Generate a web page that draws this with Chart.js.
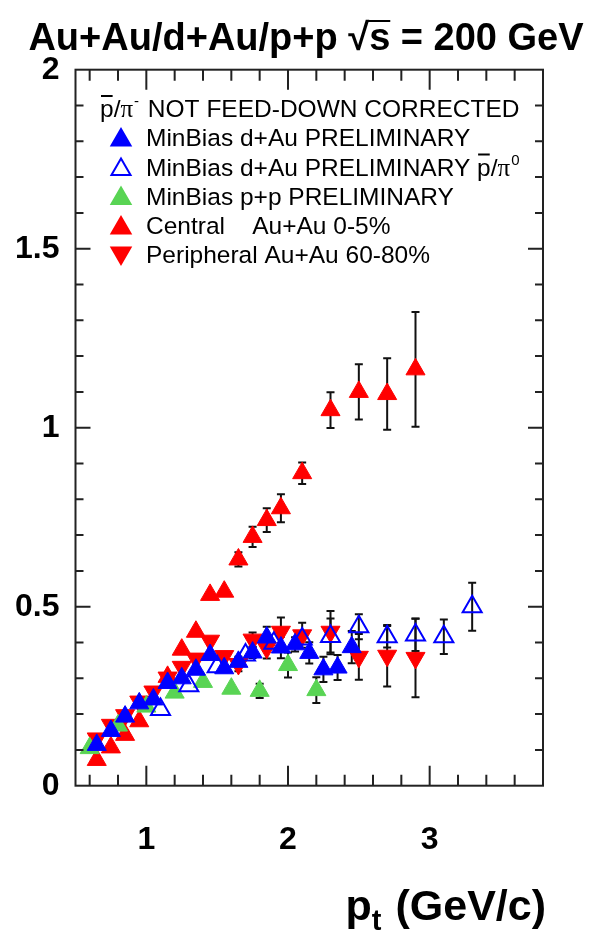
<!DOCTYPE html>
<html>
<head>
<meta charset="utf-8">
<script src="https://cdn.jsdelivr.net/npm/chart.js@4/dist/chart.umd.min.js"></script>
<style>
html, body { margin: 0; padding: 0; background: #fff; }
#wrap { width: 591px; height: 938px; }
</style>
</head>
<body>
<div id="wrap"><canvas id="ratio" width="591" height="938"></canvas></div>
<script>
// axis ticks
const xTicks = [1, 2, 3];
const yTicks = [0, 0.5, 1, 1.5, 2];

// MinBias d+Au pbar/pi-
const dAuPt = [0.65, 0.75, 0.85, 0.95, 1.05, 1.15, 1.25, 1.35, 1.45, 1.55, 1.65, 1.75, 1.85, 1.95, 2.05, 2.15, 2.25, 2.35, 2.45];
const dAuRatio = [0.114, 0.153, 0.193, 0.23, 0.241, 0.287, 0.30, 0.324, 0.365, 0.328, 0.346, 0.372, 0.414, 0.386, 0.395, 0.371, 0.325, 0.33, 0.387];
const dAuErr = [0, 0, 0, 0, 0, 0, 0, 0, 0, 0, 0, 0.015, 0.03, 0.03, 0.02, 0.03, 0.035, 0.035, 0.045];

// MinBias d+Au pbar/pi0
const dAuPi0Pt = [1.1, 1.3, 1.5, 1.7, 1.9, 2.1, 2.3, 2.5, 2.7, 2.9, 3.1, 3.3];
const dAuPi0Ratio = [0.213, 0.279, 0.332, 0.365, 0.398, 0.41, 0.417, 0.444, 0.416, 0.421, 0.416, 0.50];
const dAuPi0Err = [0, 0, 0, 0, 0, 0, 0.05, 0.035, 0.03, 0.045, 0.048, 0.067];

// MinBias p+p
const ppPt = [0.6, 0.8, 1.0, 1.2, 1.4, 1.6, 1.8, 2.0, 2.2];
const ppRatio = [0.105, 0.168, 0.221, 0.26, 0.29, 0.271, 0.265, 0.337, 0.267];
const ppErr = [0, 0, 0, 0, 0, 0, 0.02, 0.035, 0.036];

// Central Au+Au 0-5%
const centralPt = [0.65, 0.75, 0.85, 0.95, 1.15, 1.25, 1.35, 1.45, 1.55, 1.65, 1.75, 1.85, 1.95, 2.1, 2.3, 2.5, 2.7, 2.9];
const centralRatio = [0.072, 0.107, 0.142, 0.18, 0.304, 0.38, 0.43, 0.533, 0.542, 0.632, 0.695, 0.742, 0.775, 0.873, 1.049, 1.10, 1.094, 1.163];
const centralErr = [0, 0, 0, 0, 0, 0, 0, 0, 0, 0.02, 0.028, 0.033, 0.039, 0.03, 0.05, 0.077, 0.10, 0.16];

// Peripheral Au+Au 60-80%
const periphPt = [0.65, 0.75, 0.85, 0.95, 1.05, 1.15, 1.25, 1.35, 1.45, 1.55, 1.65, 1.75, 1.85, 1.95, 2.1, 2.3, 2.5, 2.7, 2.9];
const periphRatio = [0.132, 0.17, 0.197, 0.235, 0.263, 0.302, 0.332, 0.355, 0.405, 0.362, 0.34, 0.408, 0.385, 0.43, 0.42, 0.43, 0.36, 0.363, 0.357];
const periphErr = [0, 0, 0, 0, 0, 0, 0, 0, 0, 0, 0.02, 0.02, 0.03, 0.04, 0.035, 0.058, 0.064, 0.086, 0.11];

const RED = '#ff0000', BLUE = '#0000ff', GREEN = '#59d454';
const MS = 11;

const toPts = (xs, ys) => xs.map((x, i) => ({ x: x, y: ys[i] }));

const errSets = [
  { x: centralPt, y: centralRatio, e: centralErr },
  { x: periphPt, y: periphRatio, e: periphErr },
  { x: ppPt, y: ppRatio, e: ppErr },
  { x: dAuPt, y: dAuRatio, e: dAuErr },
  { x: dAuPi0Pt, y: dAuPi0Ratio, e: dAuPi0Err },
];

function drawRootText(ctx) {
  const H = Chart.helpers;
  ctx.fillStyle = '#000';
  ctx.textBaseline = 'alphabetic';

  // title
  ctx.font = 'bold 38px "Liberation Sans", Arial, sans-serif';
  const t1 = 'Au+Au/d+Au/p+p ', t2 = '\u221A', t3 = 's', t4 = ' = 200 GeV';
  const w1 = ctx.measureText(t1).width, w2 = ctx.measureText(t2).width;
  const w3 = ctx.measureText(t3).width, w4 = ctx.measureText(t4).width;
  let x = 306 - (w1 + w2 + w3 + w4) / 2;
  const by = 50;
  ctx.textAlign = 'left';
  ctx.fillText(t1, x, by); x += w1;
  ctx.fillText(t2, x, by); x += w2;
  ctx.fillText(t3, x, by);
  ctx.fillRect(x - 2, by - 30, w3 + 2, 2);
  x += w3;
  ctx.fillText(t4, x, by);

  // x axis title
  const big = 'bold 43px "Liberation Sans", Arial, sans-serif';
  const small = 'bold 29px "Liberation Sans", Arial, sans-serif';
  ctx.font = big;
  const a1 = 'p', a3 = ' (GeV/c)';
  const wa1 = ctx.measureText(a1).width, wa3 = ctx.measureText(a3).width;
  ctx.font = small;
  const wa2 = ctx.measureText('t').width + 2;
  let ax = 546 - wa1 - wa2 - wa3;
  ctx.font = big;
  ctx.fillText(a1, ax, 920); ax += wa1;
  ctx.font = small;
  ctx.fillText('t', ax, 930); ax += wa2;
  ctx.font = big;
  ctx.fillText(a3, ax, 920);

  // legend
  const lf = '24.5px "Liberation Sans", Arial, sans-serif';
  const pf = '25px "Liberation Serif", serif';
  const sf = '15px "Liberation Sans", Arial, sans-serif';
  const pbarPi = (px, py, sup) => {
    ctx.font = lf;
    const wp = ctx.measureText('p').width;
    ctx.fillText('p', px, py);
    ctx.fillRect(px + 1, py - 22, wp - 2, 2);
    px += wp;
    ctx.fillText('/', px, py); px += ctx.measureText('/').width;
    ctx.font = pf;
    ctx.fillText('\u03C0', px, py); px += ctx.measureText('\u03C0').width;
    ctx.font = sf;
    ctx.fillText(sup, px + 1, py - 11); px += ctx.measureText(sup).width + 1;
    return px;
  };
  const rowY = [117, 146, 175.5, 204.5, 234, 263];
  let hx = pbarPi(100, rowY[0], '-');
  ctx.font = lf;
  ctx.fillText(' NOT FEED-DOWN CORRECTED', hx + 2, rowY[0]);

  const rows = [
    { text: 'MinBias d+Au PRELIMINARY', color: BLUE, fill: true, rot: 0 },
    { text: 'MinBias d+Au PRELIMINARY ', color: BLUE, fill: false, rot: 0, extra: '0' },
    { text: 'MinBias p+p PRELIMINARY', color: GREEN, fill: true, rot: 0 },
    { text: 'Central    Au+Au 0-5%', color: RED, fill: true, rot: 0 },
    { text: 'Peripheral Au+Au 60-80%', color: RED, fill: true, rot: 180 },
  ];
  rows.forEach((r, i) => {
    const yy = rowY[i + 1];
    ctx.font = lf;
    ctx.fillStyle = '#000';
    ctx.fillText(r.text, 146, yy);
    if (r.extra) {
      pbarPi(146 + ctx.measureText(r.text).width, yy, r.extra);
    }
    ctx.save();
    ctx.fillStyle = r.fill ? r.color : 'rgba(0,0,0,0)';
    ctx.strokeStyle = r.color;
    H.drawPoint(ctx, { pointStyle: 'triangle', rotation: r.rot, radius: MS, borderWidth: r.fill ? 1 : 2 }, 121, yy - 8 + (r.rot ? -2 : 2));
    ctx.restore();
  });
}

const rootStyle = {
  id: 'rootStyle',
  beforeDatasetsDraw(chart) {
    const ctx = chart.ctx, xs = chart.scales.x, ys = chart.scales.y;
    ctx.save();
    ctx.strokeStyle = '#111';
    ctx.lineWidth = 2;
    errSets.forEach(s => {
      s.x.forEach((v, i) => {
        const e = s.e[i];
        if (!e) return;
        const px = xs.getPixelForValue(v);
        const y1 = ys.getPixelForValue(s.y[i] - e), y2 = ys.getPixelForValue(s.y[i] + e);
        ctx.beginPath();
        ctx.moveTo(px, y1); ctx.lineTo(px, y2);
        ctx.moveTo(px - 4, y1); ctx.lineTo(px + 4, y1);
        ctx.moveTo(px - 4, y2); ctx.lineTo(px + 4, y2);
        ctx.stroke();
      });
    });
    ctx.restore();
  },
  afterDraw(chart) {
    const ctx = chart.ctx, a = chart.chartArea, xs = chart.scales.x, ys = chart.scales.y;
    ctx.save();
    ctx.strokeStyle = '#222';
    ctx.lineWidth = 2;
    ctx.strokeRect(a.left, a.top, a.right - a.left, a.bottom - a.top);
    ctx.beginPath();
    // x ticks, bottom and top
    for (let k = 3; k <= 18; k++) {
      const v = k / 5;
      const px = xs.getPixelForValue(v);
      const len = (k % 5 === 0) ? 20 : 11;
      ctx.moveTo(px, a.bottom); ctx.lineTo(px, a.bottom - len);
      ctx.moveTo(px, a.top); ctx.lineTo(px, a.top + len);
    }
    // y ticks, left and right
    for (let k = 1; k < 20; k++) {
      const py = ys.getPixelForValue(k / 10);
      const len = (k % 5 === 0) ? 15 : 8;
      ctx.moveTo(a.left, py); ctx.lineTo(a.left + len, py);
      ctx.moveTo(a.right, py); ctx.lineTo(a.right - len, py);
    }
    ctx.stroke();
    drawRootText(ctx);
    ctx.restore();
  }
};

const tickFont = { family: '"Liberation Sans", Arial, sans-serif', size: 32, weight: 'bold' };

new Chart(document.getElementById('ratio'), {
  type: 'scatter',
  data: {
    datasets: [
      { label: 'MinBias d+Au PRELIMINARY pbar/pi0', data: toPts(dAuPi0Pt, dAuPi0Ratio), order: 0,
        pointStyle: 'triangle', pointRadius: MS, borderColor: BLUE, backgroundColor: 'rgba(0,0,0,0)', borderWidth: 2 },
      { label: 'MinBias d+Au PRELIMINARY', data: toPts(dAuPt, dAuRatio), order: 1,
        pointStyle: 'triangle', pointRadius: MS, borderColor: BLUE, backgroundColor: BLUE, borderWidth: 1 },
      { label: 'MinBias p+p PRELIMINARY', data: toPts(ppPt, ppRatio), order: 2,
        pointStyle: 'triangle', pointRadius: MS, borderColor: GREEN, backgroundColor: GREEN, borderWidth: 1 },
      { label: 'Peripheral Au+Au 60-80%', data: toPts(periphPt, periphRatio), order: 3,
        pointStyle: 'triangle', rotation: 180, pointRadius: MS, borderColor: RED, backgroundColor: RED, borderWidth: 1 },
      { label: 'Central Au+Au 0-5%', data: toPts(centralPt, centralRatio), order: 4,
        pointStyle: 'triangle', pointRadius: MS, borderColor: RED, backgroundColor: RED, borderWidth: 1 },
    ]
  },
  options: {
    responsive: false,
    animation: false,
    layout: { padding: { top: 69.7, right: 48, left: 0, bottom: 0 } },
    plugins: { legend: { display: false }, tooltip: { enabled: false }, title: { display: false } },
    scales: {
      x: {
        type: 'linear', min: 0.5, max: 3.8,
        grid: { display: false, drawTicks: false },
        border: { display: false },
        afterBuildTicks: s => { s.ticks = xTicks.map(v => ({ value: v })); },
        afterFit: s => { s.height = 938 - 785.7; },
        ticks: { font: tickFont, color: '#000', padding: 35, maxRotation: 0, callback: v => String(v) }
      },
      y: {
        type: 'linear', min: 0, max: 2,
        grid: { display: false, drawTicks: false },
        border: { display: false },
        afterBuildTicks: s => { s.ticks = yTicks.map(v => ({ value: v })); },
        afterFit: s => { s.width = 75.5; },
        ticks: { font: tickFont, color: '#000', padding: 16, callback: v => String(v) }
      }
    }
  },
  plugins: [rootStyle]
});
</script>
</body>
</html>
